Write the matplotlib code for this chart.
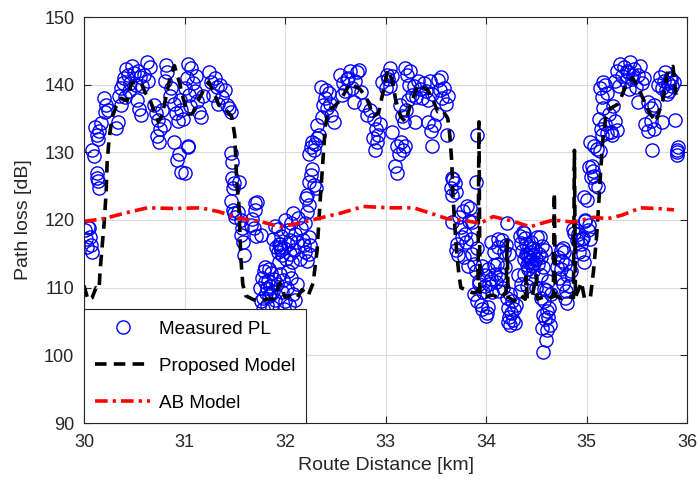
import numpy as np
import matplotlib
matplotlib.use("Agg")
import matplotlib.pyplot as plt

# measured path loss, (route km, dB), one list per km
meas_30 = [
    (30.01, 118.5), (30.02, 117.2), (30.03, 116.0), (30.04, 119.0), (30.05, 118.8), (30.06, 117.5),
    (30.07, 116.3), (30.08, 115.3), (30.08, 130.4), (30.10, 129.5), (30.13, 127.0), (30.14, 125.8),
    (30.15, 124.8), (30.13, 126.2), (30.11, 133.8), (30.13, 132.6), (30.15, 133.2), (30.17, 134.3),
    (30.14, 132.0), (30.20, 138.0), (30.22, 137.0), (30.24, 136.3), (30.21, 136.0), (30.32, 133.6),
    (30.34, 134.5), (30.35, 138.3), (30.37, 137.0), (30.37, 139.5), (30.40, 141.0), (30.42, 142.3),
    (30.44, 141.5), (30.46, 140.2), (30.48, 142.8), (30.50, 141.7), (30.52, 140.0), (30.54, 142.0),
    (30.56, 141.2), (30.58, 139.8), (30.60, 141.5), (30.63, 143.4), (30.45, 139.0), (30.41, 138.2),
    (30.39, 140.3), (30.64, 140.5), (30.66, 142.6), (30.53, 137.8), (30.55, 136.4), (30.57, 135.5),
    (30.70, 137.0), (30.72, 135.8), (30.74, 134.8), (30.76, 133.5), (30.78, 136.2), (30.73, 132.4),
    (30.75, 131.6), (30.80, 134.0), (30.82, 142.9), (30.83, 141.8), (30.81, 140.6), (30.87, 139.5),
    (30.86, 138.3), (30.90, 137.2), (30.92, 135.8), (30.94, 134.6), (30.97, 136.3), (30.99, 135.0),
    (30.96, 137.8), (30.90, 131.5), (30.93, 128.9), (30.97, 127.1), (30.95, 129.8),
]
meas_31 = [
    (31.00, 139.5), (31.02, 141.0), (31.04, 138.4), (31.06, 142.5), (31.08, 140.2), (31.10, 139.0),
    (31.12, 137.6), (31.14, 136.0), (31.16, 135.2), (31.18, 138.3), (31.05, 136.8), (31.11, 141.3),
    (31.03, 143.0), (31.26, 140.4), (31.28, 138.5), (31.30, 141.0), (31.32, 139.6), (31.35, 140.0),
    (31.37, 138.2), (31.40, 139.2), (31.42, 137.0), (31.44, 136.5), (31.46, 136.0), (31.33, 137.2),
    (31.24, 141.8), (31.03, 131.0), (31.00, 127.0), (31.03, 130.8), (31.46, 129.9), (31.47, 128.6),
    (31.47, 126.2), (31.48, 124.7), (31.49, 125.5), (31.54, 125.6), (31.49, 121.0), (31.46, 122.8),
    (31.48, 121.5), (31.72, 122.7), (31.70, 121.5), (31.66, 119.3), (31.69, 118.8), (31.71, 117.6),
    (31.67, 120.2), (31.57, 118.8), (31.58, 116.8), (31.56, 117.8), (31.59, 114.8), (31.76, 117.8),
    (31.50, 120.5), (31.53, 121.2), (31.56, 120.0), (31.70, 122.5), (31.90, 119.1), (31.93, 118.7),
    (31.88, 117.2), (31.91, 116.0), (31.93, 115.2), (31.95, 116.4), (31.97, 114.8), (31.99, 115.8),
    (31.94, 113.8), (31.96, 117.6), (31.95, 116.0), (31.96, 115.5), (31.94, 116.5), (31.75, 110.0),
    (31.77, 111.5), (31.78, 108.5), (31.79, 112.5), (31.80, 110.8), (31.81, 109.2), (31.82, 107.5),
    (31.83, 111.0), (31.84, 108.8), (31.85, 110.3), (31.86, 112.2), (31.87, 107.2), (31.88, 109.5),
    (31.89, 111.3), (31.90, 108.2), (31.78, 106.9), (31.82, 110.0), (31.84, 112.8), (31.86, 109.0),
    (31.92, 110.5), (31.95, 112.0), (31.97, 109.3), (31.98, 111.2), (31.99, 106.8), (31.80, 113.0),
    (31.76, 108.0),
]
meas_32 = [
    (32.00, 108.0), (32.02, 110.0), (32.04, 107.5), (32.06, 111.5), (32.08, 109.0), (32.10, 108.2),
    (32.12, 110.6), (32.03, 112.4), (32.01, 114.3), (32.03, 116.5), (32.05, 115.0), (32.07, 113.8),
    (32.09, 115.5), (32.12, 116.8), (32.15, 114.2), (32.18, 117.0), (32.20, 115.2), (32.00, 120.0),
    (32.03, 118.5), (32.06, 119.5), (32.10, 118.0), (32.13, 120.3), (32.16, 118.8), (32.20, 119.5),
    (32.24, 117.5), (32.22, 114.0), (32.25, 116.3), (32.05, 117.0), (32.08, 121.0), (32.19, 116.3),
    (32.24, 115.0), (32.21, 123.3), (32.22, 121.2), (32.24, 122.2), (32.22, 123.7), (32.24, 125.6),
    (32.26, 126.6), (32.29, 125.2), (32.31, 124.7), (32.27, 127.5), (32.26, 130.8), (32.29, 130.3),
    (32.32, 132.1), (32.34, 132.6), (32.24, 129.8), (32.27, 131.5), (32.30, 131.2), (32.32, 134.0),
    (32.36, 139.7), (32.38, 137.0), (32.40, 138.0), (32.42, 136.5), (32.44, 138.8), (32.46, 135.5),
    (32.49, 134.5), (32.37, 135.2), (32.41, 139.2), (32.45, 137.2), (32.55, 141.4), (32.58, 140.2),
    (32.60, 139.0), (32.63, 141.0), (32.65, 142.0), (32.67, 139.5), (32.70, 140.5), (32.72, 141.8),
    (32.74, 142.2), (32.76, 138.9), (32.57, 138.5), (32.69, 137.4), (32.62, 140.8), (32.79, 137.0),
    (32.82, 135.5), (32.85, 136.3), (32.89, 135.0), (32.91, 133.5), (32.93, 132.6), (32.95, 134.2),
    (32.88, 132.1), (32.90, 130.3), (32.92, 131.5), (32.97, 140.4),
]
meas_33 = [
    (33.01, 141.4), (33.00, 139.5), (33.02, 140.8), (33.04, 139.8), (33.06, 141.3), (33.04, 142.5),
    (33.06, 133.0), (33.11, 131.0), (33.13, 129.8), (33.15, 131.5), (33.17, 130.3), (33.19, 131.0),
    (33.09, 128.0), (33.11, 127.0), (33.14, 137.0), (33.16, 135.3), (33.18, 134.5), (33.20, 136.2),
    (33.22, 137.8), (33.19, 142.5), (33.21, 141.5), (33.24, 142.0), (33.23, 140.0), (33.26, 138.5),
    (33.28, 139.8), (33.30, 138.2), (33.32, 140.5), (33.29, 134.5), (33.34, 139.4), (33.36, 138.0),
    (33.38, 140.2), (33.40, 139.0), (33.42, 137.8), (33.44, 140.6), (33.46, 138.6), (33.42, 134.5),
    (33.45, 133.2), (33.48, 134.0), (33.51, 135.6), (33.46, 131.0), (33.52, 140.7), (33.54, 139.2),
    (33.56, 138.0), (33.58, 139.5), (33.60, 137.2), (33.62, 138.3), (33.55, 141.2), (33.61, 132.6),
    (33.66, 126.2), (33.69, 125.5), (33.70, 124.2), (33.66, 123.7), (33.66, 119.7), (33.67, 126.0),
    (33.65, 124.8), (33.73, 120.5), (33.75, 119.0), (33.77, 121.3), (33.79, 118.0), (33.81, 122.0),
    (33.83, 119.8), (33.85, 117.2), (33.76, 117.5), (33.80, 116.8), (33.84, 121.8), (33.86, 119.7),
    (33.71, 116.5), (33.72, 114.8), (33.70, 115.5), (33.91, 132.5), (33.90, 125.6), (33.91, 115.9),
    (33.78, 114.5), (33.82, 113.2), (33.86, 115.0), (33.88, 113.5), (33.90, 112.5), (33.93, 111.0),
    (33.96, 113.2), (33.99, 111.8), (33.88, 109.0), (33.91, 108.0), (33.93, 110.5), (33.95, 107.5),
    (33.97, 109.3), (33.99, 110.2), (33.96, 106.8),
]
meas_34 = [
    (34.00, 105.8), (34.02, 107.2), (34.01, 106.2), (34.02, 112.8), (34.05, 111.3), (34.09, 112.0),
    (34.11, 113.5), (34.21, 119.6), (34.05, 116.8), (34.08, 115.3), (34.12, 116.0), (34.16, 117.0),
    (34.18, 115.2), (34.03, 110.5), (34.06, 109.3), (34.10, 110.8), (34.13, 109.5), (34.15, 111.3),
    (34.17, 110.0), (34.21, 108.5), (34.22, 107.0), (34.23, 105.6), (34.24, 104.5), (34.25, 106.3),
    (34.26, 108.0), (34.27, 105.2), (34.28, 106.8), (34.29, 104.8), (34.30, 107.5), (34.22, 105.0),
    (34.24, 109.0), (34.12, 117.2), (34.20, 116.3), (34.23, 115.0), (34.08, 113.4), (34.14, 112.0),
    (34.19, 113.0), (34.38, 118.1), (34.35, 116.6), (34.37, 118.3), (34.39, 117.4), (34.34, 117.6),
    (34.36, 115.4), (34.38, 114.2), (34.40, 115.0), (34.41, 113.4), (34.42, 114.6), (34.43, 113.8),
    (34.44, 115.2), (34.45, 114.0), (34.46, 113.2), (34.47, 114.8), (34.48, 113.6), (34.49, 115.5),
    (34.50, 114.3), (34.52, 113.5), (34.53, 115.0), (34.43, 116.0), (34.40, 116.5), (34.45, 116.8),
    (34.42, 112.8), (34.47, 112.5), (34.44, 114.5), (34.46, 115.8), (34.41, 114.9), (34.55, 114.5),
    (34.57, 113.0), (34.59, 115.5), (34.56, 116.2), (34.32, 111.8), (34.35, 110.5), (34.38, 112.0),
    (34.41, 110.2), (34.45, 111.5), (34.50, 110.0), (34.55, 111.8), (34.58, 109.8), (34.62, 111.0),
    (34.34, 109.5), (34.51, 117.5), (34.54, 117.5), (34.57, 100.5), (34.60, 102.3), (34.61, 103.8),
    (34.64, 104.5), (34.62, 105.6), (34.63, 107.0), (34.59, 105.3), (34.56, 104.0), (34.58, 108.0),
    (34.61, 106.6), (34.65, 109.0), (34.60, 109.6), (34.55, 108.5), (34.57, 106.0), (34.75, 115.6),
    (34.71, 113.0), (34.73, 111.5), (34.75, 112.8), (34.77, 110.5), (34.79, 113.5), (34.81, 111.8),
    (34.83, 110.2), (34.85, 112.5), (34.72, 114.5), (34.78, 115.2), (34.80, 109.5), (34.76, 114.0),
    (34.77, 115.8), (34.81, 107.7), (34.79, 108.5), (34.88, 118.1), (34.91, 117.0), (34.93, 115.3),
    (34.95, 116.5), (34.97, 115.0), (34.98, 123.4), (34.87, 118.6), (34.92, 118.0), (34.96, 117.2),
    (34.99, 119.8), (34.97, 117.3), (34.99, 120.0),
]
meas_35 = [
    (35.00, 123.0), (35.01, 118.5), (35.03, 117.2), (35.02, 119.2), (34.98, 113.8), (35.05, 128.0),
    (35.07, 126.5), (35.08, 125.2), (35.06, 127.3), (35.04, 126.4), (35.11, 124.9), (35.02, 127.8),
    (35.03, 131.5), (35.07, 131.0), (35.10, 130.5), (35.13, 130.2), (35.12, 135.0), (35.14, 133.5),
    (35.16, 136.5), (35.18, 134.2), (35.20, 132.8), (35.22, 135.6), (35.24, 133.0), (35.26, 136.8),
    (35.28, 134.6), (35.30, 133.3), (35.15, 132.6), (35.25, 132.6), (35.13, 139.5), (35.15, 138.2),
    (35.18, 140.0), (35.20, 138.8), (35.16, 140.4), (35.28, 140.5), (35.30, 142.0), (35.32, 139.8),
    (35.35, 141.3), (35.37, 142.6), (35.39, 140.5), (35.41, 141.8), (35.43, 143.4), (35.45, 140.8),
    (35.47, 142.3), (35.49, 139.6), (35.51, 141.5), (35.53, 142.8), (35.55, 140.2), (35.57, 141.0),
    (35.33, 143.0), (35.42, 139.3), (35.46, 141.4), (35.40, 142.0), (35.51, 137.4), (35.61, 137.4),
    (35.64, 136.5), (35.67, 137.0), (35.58, 134.2), (35.61, 133.2), (35.64, 134.6), (35.67, 133.5),
    (35.65, 130.3), (35.75, 134.5), (35.71, 140.0), (35.73, 141.2), (35.75, 139.5), (35.77, 140.6),
    (35.79, 139.2), (35.81, 140.2), (35.83, 141.0), (35.85, 139.8), (35.87, 140.4), (35.80, 138.6),
    (35.78, 141.8), (35.82, 139.0), (35.84, 140.8), (35.88, 134.8), (35.90, 130.0), (35.90, 130.4),
    (35.91, 130.8), (35.90, 129.6),
]

# proposed model curve
prop_km = [30.00, 30.04, 30.08, 30.12, 30.15, 30.16, 30.18, 30.20, 30.22, 30.23, 30.25, 30.28,
           30.32, 30.37, 30.43, 30.47, 30.53, 30.57, 30.61, 30.66, 30.70, 30.74, 30.78, 30.82,
           30.86, 30.90, 30.95, 30.99, 31.04, 31.08, 31.13, 31.19, 31.24, 31.29, 31.34, 31.41,
           31.47, 31.50, 31.51, 31.52, 31.54, 31.55, 31.56, 31.58, 31.61, 31.69, 31.79, 31.89,
           31.95, 32.00, 32.05, 32.12, 32.17, 32.23, 32.28, 32.32, 32.35, 32.38, 32.40, 32.43,
           32.49, 32.55, 32.65, 32.75, 32.82, 32.88, 32.93, 32.98, 33.02, 33.07, 33.10, 33.15,
           33.20, 33.25, 33.33, 33.42, 33.47, 33.52, 33.57, 33.62, 33.64, 33.66, 33.67, 33.69,
           33.71, 33.73, 33.75, 33.82, 33.88, 33.92, 33.93, 33.94, 34.00, 34.07, 34.14, 34.20,
           34.21, 34.22, 34.28, 34.34, 34.39, 34.40, 34.41, 34.46, 34.50, 34.51, 34.57, 34.62,
           34.67, 34.68, 34.69, 34.75, 34.81, 34.87, 34.88, 34.89, 34.95, 34.98, 35.04, 35.07,
           35.10, 35.12, 35.14, 35.16, 35.19, 35.24, 35.32, 35.40, 35.46, 35.54, 35.62, 35.69,
           35.76, 35.81, 35.86, 35.89]
prop_db = [110.3, 108.2, 108.5, 110.0, 109.8, 112.5, 116.0, 119.5, 124.0, 128.5, 132.0, 135.2,
           136.8, 138.0, 137.6, 140.2, 140.4, 140.2, 138.8, 137.6, 136.0, 134.5, 135.6, 138.5,
           141.3, 142.8, 140.3, 137.8, 135.6, 135.7, 137.5, 139.2, 140.4, 139.0, 137.0, 136.3,
           135.3, 132.5, 129.0, 125.5, 122.5, 118.5, 114.5, 110.5, 108.8, 108.2, 108.2, 108.4,
           110.7, 108.6, 108.8, 108.5, 109.7, 108.8, 110.7, 115.6, 122.9, 129.3, 133.7, 136.2,
           136.8, 137.7, 140.2, 139.3, 137.7, 135.3, 135.8, 139.2, 142.2, 140.6, 137.8, 135.3,
           134.5, 137.2, 140.0, 139.2, 137.8, 136.0, 136.2, 135.0, 132.5, 128.5, 124.0, 119.0,
           115.0, 112.0, 110.0, 109.5, 109.2, 109.5, 134.5, 108.8, 108.7, 108.9, 108.4, 109.3,
           117.0, 108.6, 108.0, 108.9, 108.3, 111.6, 108.4, 108.7, 111.8, 108.3, 108.6, 108.3,
           108.7, 124.0, 108.8, 108.4, 108.7, 108.5, 130.3, 108.6, 110.8, 108.4, 108.7, 112.5,
           117.5, 122.0, 127.0, 131.5, 135.0, 136.5, 137.2, 140.2, 141.0, 138.7, 136.0, 134.5,
           137.7, 142.2, 142.7, 138.5]

# AB model curve
ab_km = [30.00, 30.20, 30.40, 30.63, 30.90, 31.16, 31.35, 31.52, 31.75, 31.95, 32.10, 32.35,
         32.55, 32.78, 33.05, 33.28, 33.45, 33.61, 33.80, 33.94, 34.07, 34.25, 34.44, 34.55,
         34.67, 34.87, 35.07, 35.21, 35.35, 35.54, 35.70, 35.87]
ab_db = [119.8, 120.2, 121.0, 121.8, 121.7, 121.8, 121.2, 120.3, 119.8, 119.0, 119.4, 120.3,
         121.0, 122.0, 121.8, 121.8, 121.0, 120.2, 119.9, 119.5, 120.5, 119.9, 119.0, 119.5,
         120.0, 119.7, 120.4, 120.2, 120.7, 121.8, 121.7, 121.5]

plt.rcParams["font.family"] = ["Liberation Sans", "DejaVu Sans"]
dark = "#262626"

meas = np.array(meas_30 + meas_31 + meas_32 + meas_33 + meas_34 + meas_35)

fig = plt.figure(figsize=(6.97, 4.97), dpi=100)
ax = fig.add_axes([84 / 697, 74 / 497, 603 / 697, 406 / 497])

ax.plot(meas[:, 0], meas[:, 1], "o", mfc="none", mec="b", ms=9.5, mew=1.0,
        label="Measured PL")
ax.plot(prop_km, prop_db, color="k", lw=2.6, dashes=(3.2, 2.0), label="Proposed Model")
ax.plot(ab_km, ab_db, color="r", lw=2.6, dashes=(3.5, 1.4, 0.9, 1.4), label="AB Model")

ax.set_xlim(30, 36)
ax.set_ylim(90, 150)
ax.set_xticks(np.arange(30, 37, 1))
ax.set_yticks(np.arange(90, 151, 10))
ax.grid(True, color="#dcdcdc", lw=0.8)
ax.set_axisbelow(True)
ax.tick_params(direction="in", top=True, right=True, length=5, width=0.8,
               colors=dark, labelsize=13)
ax.tick_params(axis="x", pad=8)
ax.tick_params(axis="y", pad=7)
for s in ax.spines.values():
    s.set_color(dark)
    s.set_linewidth(0.8)

ax.set_xlabel("Route Distance [km]", fontsize=14, color=dark, labelpad=4)
ax.set_ylabel("Path loss [dB]", fontsize=14, color=dark, labelpad=9)

leg = ax.legend(loc="lower left", bbox_to_anchor=(0, 0), borderaxespad=0,
                fancybox=False, edgecolor=dark, framealpha=1, fontsize=13.6,
                handlelength=2.9, labelspacing=1.05, borderpad=0.6, handletextpad=0.45)
leg.get_frame().set_linewidth(0.8)

fig.savefig("out.png", dpi=100)
